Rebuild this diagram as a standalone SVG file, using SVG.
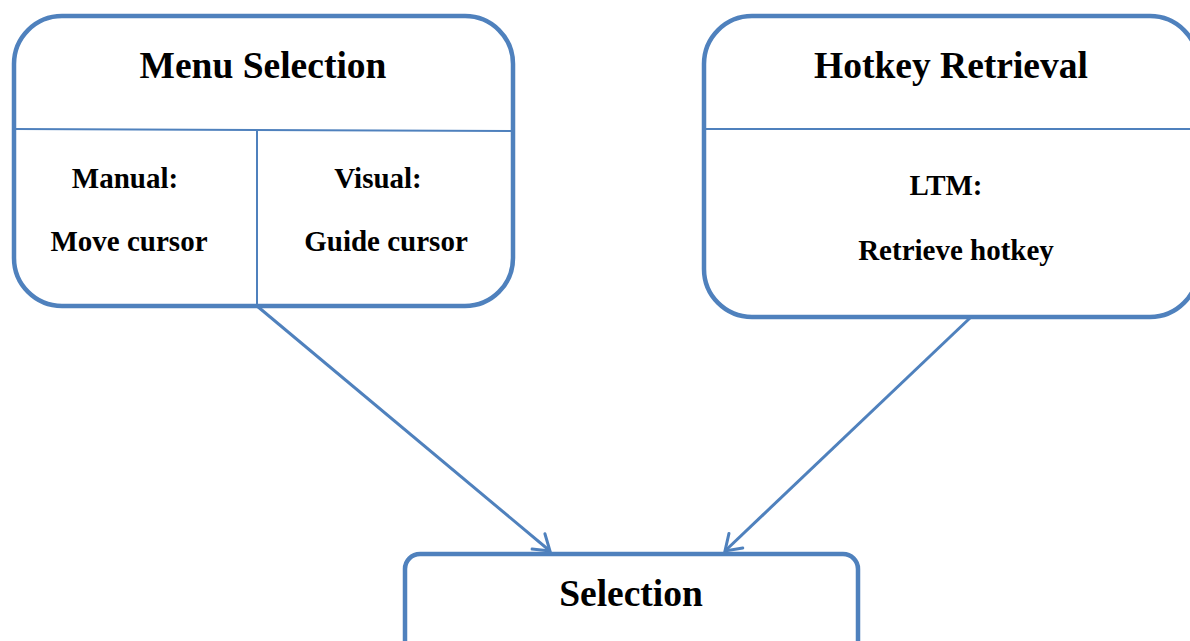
<svg xmlns="http://www.w3.org/2000/svg" width="1190" height="641" viewBox="0 0 1190 641">
<style>
.box{fill:#fff;stroke:#4F81BD;stroke-width:4.5}
.div{stroke:#4F81BD;stroke-width:2;fill:none}
.conn{stroke:#4F81BD;stroke-width:3;fill:none}
.t{font-family:"Liberation Serif","Times New Roman",serif;font-weight:bold;fill:#000;text-anchor:middle}
.h{font-size:37.5px}
.s{font-size:29px}
</style>
<defs>
<marker id="arr" markerUnits="userSpaceOnUse" markerWidth="30" markerHeight="30" viewBox="-20 -15 30 30" refX="0" refY="0" orient="auto">
<path d="M-15,-10 L0,0 L-15,10" fill="none" stroke="#4F81BD" stroke-width="3" stroke-linecap="round"/>
</marker>
</defs>
<rect width="1190" height="641" fill="#fff"/>
<g id="connectors">
<line class="conn" x1="257" y1="306" x2="550" y2="551" marker-end="url(#arr)"/>
<line class="conn" x1="970" y1="318" x2="725" y2="551" marker-end="url(#arr)"/>
</g>
<g id="menu-selection">
<rect class="box" x="14" y="16" width="499" height="290" rx="48" ry="48"/>
<line class="div" x1="14" y1="129" x2="513" y2="131"/>
<line class="div" x1="257" y1="130" x2="257" y2="306"/>
<text class="t h" x="263" y="78">Menu Selection</text>
<text class="t s" x="125" y="188">Manual:</text>
<text class="t s" x="129" y="251">Move cursor</text>
<text class="t s" x="378" y="188">Visual:</text>
<text class="t s" x="386" y="251">Guide cursor</text>
</g>
<g id="hotkey-retrieval">
<rect class="box" x="704" y="16" width="494" height="301" rx="48" ry="48"/>
<line class="div" x1="704" y1="129" x2="1198" y2="129"/>
<text class="t h" x="951" y="78">Hotkey Retrieval</text>
<text class="t s" x="946" y="195">LTM:</text>
<text class="t s" x="956" y="260">Retrieve hotkey</text>
</g>
<g id="selection">
<rect class="box" x="405" y="554" width="453" height="110" rx="15" ry="15"/>
<text class="t h" x="631" y="606">Selection</text>
</g>
</svg>
